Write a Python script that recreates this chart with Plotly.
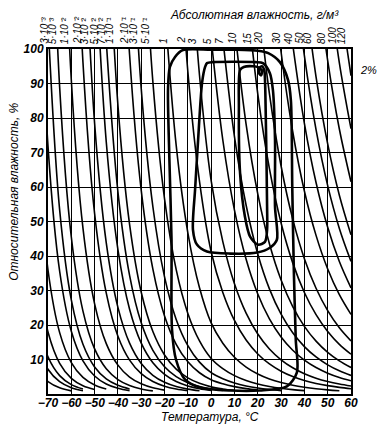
import math
import plotly.graph_objects as go

# Saturation absolute humidity table (g/m^3): over ice below 0 °C, over water above
sat_T = [-75, -70, -65, -60, -55, -50, -45, -40, -35, -30, -25, -20, -15, -10, -5,
         0, 5, 10, 15, 20, 25, 30, 35, 40, 45, 50, 55, 60]
sat_a = [0.001328, 0.002783, 0.005621, 0.010986, 0.020798, 0.03825, 0.06845,
         0.11944, 0.20343, 0.33889, 0.55274, 0.88392, 1.3877, 2.1401, 3.2466,
         4.8488, 6.7915, 9.3828, 12.797, 17.244, 22.968, 30.265, 39.468, 50.987,
         65.252, 82.783, 104.16, 130.05]

# Labelled absolute-humidity curves (g/m^3) and their labels along the top
abs_hum = [0.003, 0.005, 0.01, 0.02, 0.03, 0.05, 0.07, 0.1, 0.2, 0.3, 0.5,
           1, 2, 3, 5, 7, 10, 15, 20, 30, 40, 50, 60, 80, 100, 120]
abs_labels = ["3·10⁻³", "5·10⁻³", "1·10⁻²", "2·10⁻²", "3·10⁻²", "5·10⁻²", "7·10⁻²",
              "1·10⁻¹", "2·10⁻¹", "3·10⁻¹", "5·10⁻¹",
              "1", "2", "3", "5", "7", "10", "15", "20", "30", "40", "50", "60",
              "80", "100", "120"]
# Unlabelled curves entering from the left edge
extra_hum = [0.0001, 0.0002, 0.0003, 0.0005, 0.001, 0.002]

# Climate envelopes (temperature °C, relative humidity %)
outer_T = [-12.1, 0, 10, 20.1, 24.5, 29.5, 33.0, 34.2, 34.8, 35.5, 36.3, 36.8, 32.5,
           20.9, 8.1, -4.8, -11.2, -15.1, -16.8, -17.0, -18.0, -18.5, -17.7, -15.5, -12.1]
outer_RH = [99.7, 99.8, 99.8, 99.5, 98.8, 96.2, 91.0, 85.2, 60, 35, 15.8, 6.3, 2.2,
            1.0, 1.0, 1.9, 4.2, 10.0, 18.7, 44.7, 70, 88.5, 94.8, 97.7, 99.7]
middle_T = [-1.8, 0.8, 10, 19.0, 22.2, 25.2, 26.5, 27.4, 27.4, 28.2, 25.2, 19.7, 8.1,
            -1.8, -6.1, -7.8, -6.9, -5.6, -3.9, -2.6, -1.8]
middle_RH = [95.9, 96.2, 96.3, 96.2, 95.9, 93.0, 88.1, 73.6, 54.3, 44.7, 42.4, 41.0,
             40.7, 41.3, 43.3, 47.6, 59.2, 73.6, 90.2, 94.8, 95.9]
inner_T = [12.4, 14.0, 18.0, 20.3, 21.7, 21.5, 20.6, 20.7, 21.8, 22.8, 23.1, 23.6,
           24.0, 24.0, 23.1, 20.1, 16.7, 14.5, 12.4, 11.9, 12.4]
inner_RH = [93.9, 94.8, 95.0, 94.7, 93.8, 92.4, 92.9, 94.5, 95.0, 93.8, 91.0, 73.6,
            54.3, 47.6, 44.1, 43.3, 45.6, 51.4, 64.1, 83.2, 93.9]


def curve(a):
    xs, ys = [], []
    rh = [100.0 * a / s for s in sat_a]
    started = False
    for i, r in enumerate(rh):
        if not started:
            if r <= 100:
                started = True
                if i > 0:
                    xs.append(sat_T[i - 1]); ys.append(rh[i - 1])
            else:
                continue
        if r < 0.9:
            break
        xs.append(sat_T[i]); ys.append(r)
    return xs, ys


def dew_point(a):
    for i in range(len(sat_a) - 1):
        if sat_a[i] <= a < sat_a[i + 1]:
            return sat_T[i] + (sat_T[i + 1] - sat_T[i]) * math.log(a / sat_a[i]) / math.log(sat_a[i + 1] / sat_a[i])
    return sat_T[-1]


fig = go.Figure()
for a in extra_hum + abs_hum:
    xs, ys = curve(a)
    fig.add_trace(go.Scatter(x=xs, y=ys, mode="lines",
                             line=dict(color="black", width=1.6, shape="spline", smoothing=1.0),
                             hoverinfo="skip", showlegend=False))

for tx, ty in [(outer_T, outer_RH), (middle_T, middle_RH), (inner_T, inner_RH)]:
    fig.add_trace(go.Scatter(x=tx, y=ty, mode="lines",
                             line=dict(color="black", width=2.6, shape="spline", smoothing=0.8),
                             hoverinfo="skip", showlegend=False))

FAM = "Liberation Sans Narrow, Liberation Sans, Arial, sans-serif"
tick_font = dict(family=FAM, size=12, color="black", style="italic", weight="bold")

annotations = []
for a, lab in zip(abs_hum, abs_labels):
    annotations.append(dict(x=dew_point(a), xref="x", y=1.0, yref="paper",
                            text=lab, showarrow=False, textangle=-90,
                            xanchor="center", yanchor="bottom", xshift=-5, yshift=3,
                            font=dict(family=FAM, size=10, color="black", style="italic")))

annotations += [
    dict(x=0.68, y=1.098, xref="paper", yref="paper", text="Абсолютная влажность, г/м³",
         showarrow=False, xanchor="center", yanchor="middle",
         font=dict(family=FAM, size=12, color="black", style="italic")),
    dict(x=1.022, y=0.94, xref="paper", yref="paper", text="2%", showarrow=False,
         xanchor="left", yanchor="middle",
         font=dict(family=FAM, size=11, color="black", style="italic")),
    dict(x=-0.11, y=0.585, xref="paper", yref="paper", text="Относительная влажность, %",
         showarrow=False, textangle=-90, xanchor="center", yanchor="middle",
         font=dict(family=FAM, size=12, color="black", style="italic")),
    dict(x=0.535, y=-0.068, xref="paper", yref="paper", text="Температура, °C",
         showarrow=False, xanchor="center", yanchor="middle",
         font=dict(family=FAM, size=12, color="black", style="italic")),
]

# page body has an 8px margin: figure is shifted by (8, 8) inside the window
fig.update_layout(
    width=377, height=419,
    margin=dict(l=40, r=34, t=41, b=33, autoexpand=False),
    paper_bgcolor="white", plot_bgcolor="white",
    annotations=annotations,
)
fig.update_xaxes(range=[-70, 60], tickvals=list(range(-70, 61, 10)),
                 showgrid=True, gridcolor="black", gridwidth=1.2,
                 showline=True, linecolor="black", linewidth=2, mirror=True,
                 zeroline=False, ticks="", tickfont=tick_font, tickangle=0,
                 ticklabelstandoff=-3, automargin=False)
fig.update_yaxes(range=[0, 100], tickvals=list(range(10, 101, 10)),
                 showgrid=True, gridcolor="black", gridwidth=1.2,
                 showline=True, linecolor="black", linewidth=2, mirror=True,
                 zeroline=False, ticks="", tickfont=tick_font, automargin=False)

fig.write_html("out.html")
